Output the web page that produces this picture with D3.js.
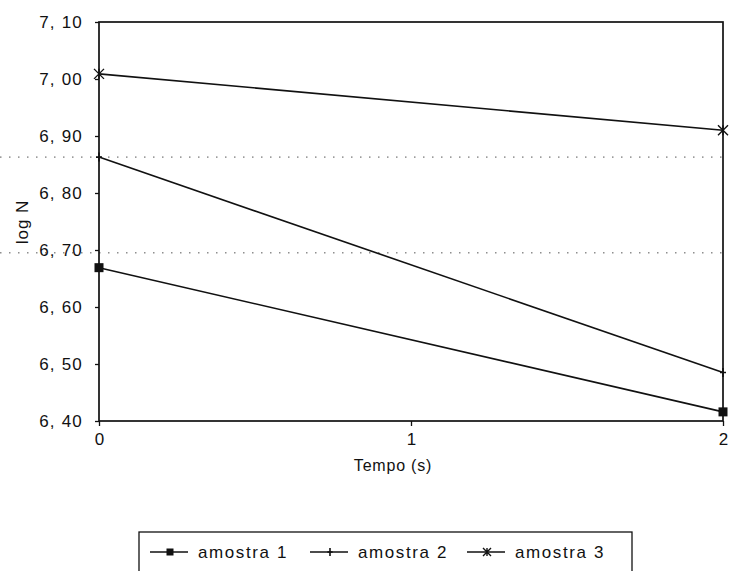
<!DOCTYPE html>
<html>
<head>
<meta charset="utf-8">
<script src="https://cdn.jsdelivr.net/npm/d3@7"></script>
<style>
  body { margin: 0; background: #fff; }
  text { font-family: "Liberation Sans", "DejaVu Sans", sans-serif; fill: #111; }
</style>
</head>
<body>
<svg id="chart" width="729" height="571"></svg>
<script>
// Survival data: log N versus exposure time
const times = [0, 2];
const seriesNames = ["amostra 1", "amostra 2", "amostra 3"];
const amostra1 = [6.669, 6.416];
const amostra2 = [6.863, 6.485];
const amostra3 = [7.009, 6.910];
const yTicks = [6.40, 6.50, 6.60, 6.70, 6.80, 6.90, 7.00, 7.10];
const xTicks = [0, 1, 2];
const dottedRules = [6.863, 6.695];
const xTitle = "Tempo (s)";
const yTitle = "log N";

const W = 729, H = 571;
const margin = { left: 99, right: 6, top: 22, bottom: 150 };
const svg = d3.select("#chart");

const x = d3.scaleLinear().domain([0, 2]).range([margin.left, W - margin.right]);
const y = d3.scaleLinear().domain([6.40, 7.10]).range([H - margin.bottom, margin.top]);

const fmt = v => d3.format(".2f")(v).replace(".", ", ");
const ink = "#111";

// faint dotted rules running across the sheet
svg.append("g").selectAll("line").data(dottedRules).join("line")
  .attr("x1", 0).attr("x2", W)
  .attr("y1", d => y(d)).attr("y2", d => y(d))
  .attr("stroke", "#555").attr("stroke-width", 1)
  .attr("stroke-dasharray", "1.5,7.5");

// frame
svg.append("rect")
  .attr("x", x(0)).attr("y", y(7.10))
  .attr("width", x(2) - x(0)).attr("height", y(6.40) - y(7.10))
  .attr("fill", "none").attr("stroke", ink).attr("stroke-width", 1.7);

// y axis
const yAxis = d3.axisLeft(y).tickValues(yTicks).tickFormat(fmt).tickSize(4).tickPadding(12);
const gy = svg.append("g").attr("transform", `translate(${x(0)},0)`).call(yAxis);
gy.select(".domain").remove();
gy.selectAll(".tick line").attr("stroke", ink).attr("stroke-width", 1.3);
gy.selectAll(".tick text").attr("font-size", 17).attr("letter-spacing", 1.2)
  .attr("fill", ink).attr("font-family", null);

// x axis
const xAxis = d3.axisBottom(x).tickValues(xTicks).tickFormat(d3.format("d")).tickSize(5).tickPadding(7);
const gx = svg.append("g").attr("transform", `translate(0,${y(6.40)})`).call(xAxis);
gx.select(".domain").remove();
gx.selectAll(".tick line").attr("stroke", ink).attr("stroke-width", 1.3);
gx.selectAll(".tick text").attr("font-size", 17).attr("fill", ink).attr("font-family", null);

// axis titles
svg.append("text").attr("x", 393).attr("y", 471)
  .attr("text-anchor", "middle").attr("font-size", 16).attr("letter-spacing", 0.8)
  .text(xTitle);
svg.append("text")
  .attr("transform", "translate(28,222) rotate(-90)")
  .attr("text-anchor", "middle").attr("font-size", 17).attr("letter-spacing", 1)
  .text(yTitle);

// markers
const markers = {
  square: (g, s) => g.append("rect").attr("x", -s / 2).attr("y", -s / 2)
    .attr("width", s).attr("height", s).attr("fill", ink),
  plus: (g, s) => {
    g.append("path").attr("d", `M0,${-s / 2}V${s / 2}M${-s / 3},0H${s / 3}`)
      .attr("stroke", ink).attr("stroke-width", 1.6).attr("fill", "none");
  },
  star: (g, s) => {
    const r = s / 2;
    g.append("path")
      .attr("d", `M${-r},${-r}L${r},${r}M${-r},${r}L${r},${-r}M0,${-r}V${r}`)
      .attr("stroke", ink).attr("stroke-width", 1.4).attr("fill", "none");
  }
};

const series = [
  { name: seriesNames[0], values: amostra1, marker: "square", size: 9 },
  { name: seriesNames[1], values: amostra2, marker: "plus", size: 9 },
  { name: seriesNames[2], values: amostra3, marker: "star", size: 10 }
];

const line = d3.line().x((d, i) => x(times[i])).y(d => y(d));

series.forEach(s => {
  svg.append("path").datum(s.values)
    .attr("d", line).attr("fill", "none")
    .attr("stroke", ink).attr("stroke-width", 1.6);
  s.values.forEach((v, i) => {
    const g = svg.append("g").attr("transform", `translate(${x(times[i])},${y(v)})`);
    markers[s.marker](g, s.size);
  });
});

// legend
const legend = svg.append("g");
legend.append("rect")
  .attr("x", 139).attr("y", 532).attr("width", 493).attr("height", 60)
  .attr("fill", "none").attr("stroke", ink).attr("stroke-width", 1.3);

const legendX = [150, 310, 467];
series.forEach((s, i) => {
  const g = legend.append("g").attr("transform", `translate(${legendX[i]},552)`);
  g.append("line").attr("x1", 0).attr("x2", 38).attr("y1", 0).attr("y2", 0)
    .attr("stroke", ink).attr("stroke-width", 1.4);
  markers[s.marker](g.append("g").attr("transform", "translate(20,0)"), s.marker === "square" ? 7 : 8);
  g.append("text").attr("x", 48).attr("y", 6)
    .attr("font-size", 17).attr("letter-spacing", 1.6)
    .text(s.name);
});
</script>
</body>
</html>
